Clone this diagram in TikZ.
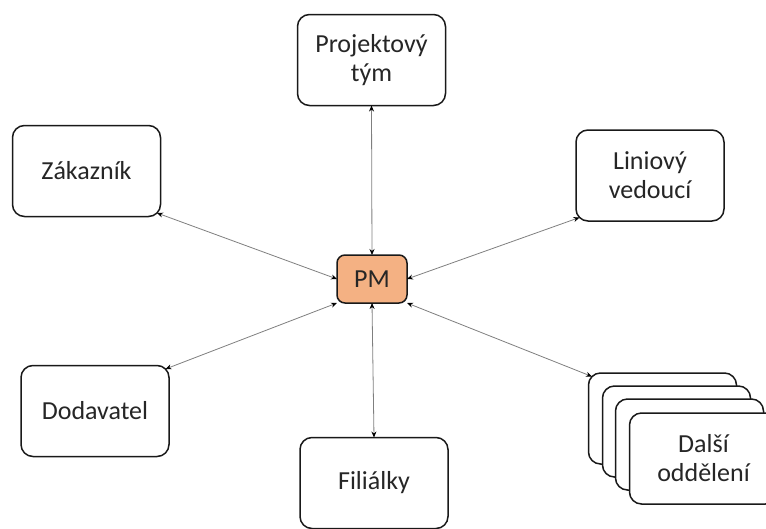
\documentclass[tikz,border=0pt]{standalone}
\usepackage{fontspec}
\setmainfont{Carlito}
\usetikzlibrary{arrows.meta}
\definecolor{pmfill}{HTML}{F4B183}
\definecolor{txt}{HTML}{262626}
\definecolor{conn}{HTML}{7F7F7F}
\begin{document}
\begin{tikzpicture}[x=1pt,y=-1pt,
  box/.style={draw=black!90, line width=1.5pt, rounded corners=12pt, fill=white,
    minimum width=148pt, minimum height=91pt, inner sep=0pt, outer sep=0pt,
    align=center, text=txt, font=\fontsize{26}{29}\selectfont},
  pmbox/.style={draw=black!90, line width=1.5pt, rounded corners=8pt, fill=pmfill,
    minimum width=70pt, minimum height=48pt, inner sep=0pt, outer sep=0pt,
    text=txt, font=\fontsize{26}{29}\selectfont},
  link/.style={draw=conn, line width=0.8pt,
    {Stealth[length=6pt,width=5pt,color=black]}-{Stealth[length=6pt,width=5pt,color=black]}}]
\clip (0,0) rectangle (766,528);
\useasboundingbox (0,0) rectangle (766,528);
\node[box] (proj) at (371.5,60) {Projektový\\tým};
\node[box] (zak) at (86.5,171) {Zákazník};
\node[box] (lin) at (650,175.5) {Liniový\\vedoucí};
\node[box] (dod) at (95,411) {Dodavatel};
\node[box] (fil) at (374,483) {Filiálky};
\node[box] (dal1) at (662.5,418.5) {};
\node[box] (dal2) at (676.5,431.5) {};
\node[box] (dal3) at (689.5,444.5) {};
\node[box] (dal4) at (703.5,458.5) {Další\\oddělení};
\node[pmbox] (pm) at (372,279) {PM};
\draw[link] (proj.south) -- (pm.north);
\draw[link] ([xshift=-3.5pt,yshift=3.5pt]zak.south east) -- (pm.west);
\draw[link] ([xshift=3.5pt,yshift=3.5pt]lin.south west) -- (pm.east);
\draw[link] ([xshift=-3.5pt,yshift=-3.5pt]dod.north east) -- (pm.south west);
\draw[link] (fil.north) -- (pm.south);
\draw[link] ([xshift=3.5pt,yshift=-3.5pt]dal1.north west) -- (pm.south east);
\end{tikzpicture}
\end{document}
